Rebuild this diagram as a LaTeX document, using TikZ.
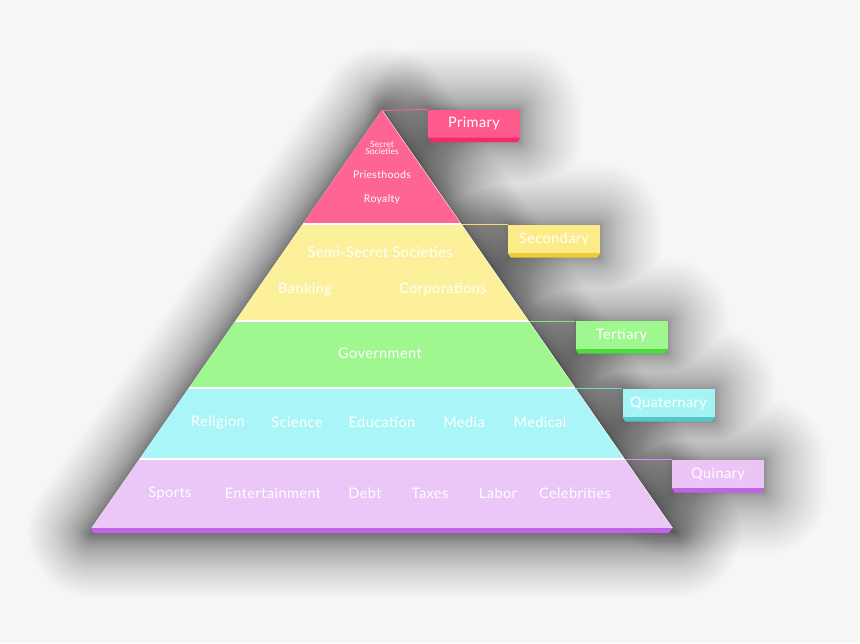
\documentclass[tikz,border=0pt]{standalone}
\usepackage{fontspec}
\setmainfont{Lato}
\newfontfamily\handfont[LetterSpace=3]{Lato}
\definecolor{bgc}{HTML}{F6F6F6}
\definecolor{pinkA}{HTML}{FE6592}
\definecolor{pinkB}{HTML}{FF5A8C}
\definecolor{pinkC}{HTML}{F7286B}
\definecolor{yelA}{HTML}{FCF09A}
\definecolor{yelB}{HTML}{FCEB86}
\definecolor{yelC}{HTML}{EDCB3A}
\definecolor{grnA}{HTML}{A0F790}
\definecolor{grnB}{HTML}{9FF88F}
\definecolor{grnC}{HTML}{4CDC3C}
\definecolor{cyaA}{HTML}{AAF5F7}
\definecolor{cyaB}{HTML}{A6F3F6}
\definecolor{cyaC}{HTML}{55C6CB}
\definecolor{purA}{HTML}{EBC7F7}
\definecolor{purB}{HTML}{EBC5F6}
\definecolor{purC}{HTML}{C262E8}
\begin{document}
\begin{tikzpicture}[x=1pt,y=-1pt,
  txt/.style={text=white, font=\handfont\fontsize{14.5}{16}\selectfont, inner sep=0pt},
  smalltxt/.style={text=white, font=\handfont\fontsize{10.5}{12}\selectfont, inner sep=0pt},
  tinytxt/.style={text=white, font=\fontsize{8.5}{8}\selectfont, align=center, inner sep=0pt},
  lbl/.style={text=white, font=\handfont\fontsize{14.5}{16}\selectfont, minimum width=92pt, minimum height=28pt, inner sep=0pt},
  link/.style={line width=0.8pt}]
\fill[bgc] (0,0) rectangle (860,643);
\useasboundingbox (0,0) rectangle (860,643);
% soft shadow of the pyramid: stacked offset copies of the silhouette
\foreach \i in {0,...,79} {
  \pgfmathsetmacro\rr{2*66*(\i/80)^2}
  \begin{scope}[transparency group, opacity=0.0078]
  \filldraw[black, line width=\rr pt, line join=round]
    (384,111) -- (677,533) -- (92,533) -- cycle;
  \end{scope}
}
% soft shadow of the label boxes
\foreach \i in {0,...,49} {
  \pgfmathsetmacro\rr{2*64*(\i/50)^1.6}
  \begin{scope}[transparency group, opacity=0.0085]
  \filldraw[black, line width=\rr pt, line join=round]
    (428,109) rectangle (520,142)
    (508,225) rectangle (600,258)
    (575,321) rectangle (668,354)
    (622,389) rectangle (715,422)
    (671,460) rectangle (765,493);
  \end{scope}
}
% pyramid
\coordinate (apex) at (382,110);
\coordinate (bl) at (91.5,528);
\coordinate (br) at (672.5,528);
\fill[white] (apex) -- (br) -- (bl) -- cycle;
\begin{scope}
\clip (apex) -- (br) -- (bl) -- cycle;
\fill[pinkA] (0,100) rectangle (860,223);
\fill[yelA] (0,225) rectangle (860,320);
\fill[grnA] (0,322) rectangle (860,387);
\fill[cyaA] (0,389) rectangle (860,458);
\fill[purA] (0,460) rectangle (860,529);
\end{scope}
\draw[white, opacity=0.6, line width=0.6pt] (apex) -- (br);
\fill[purC] (bl) -- (br) -- (668.5,533) -- (93,533) -- cycle;
% band corners
\coordinate (c1) at (382,110.5);
\coordinate (c2) at (461,224);
\coordinate (c3) at (528.5,321);
\coordinate (c4) at (575,388);
\coordinate (c5) at (624.5,459);
% label boxes
\node[lbl, fill=pinkB] (l1) at (474,123.5) {Primary};
\node[lbl, fill=yelB] (l2) at (554,239) {Secondary};
\node[lbl, fill=grnB] (l3) at (621.5,335) {Tertiary};
\node[lbl, fill=cyaB] (l4) at (668.5,403) {Quaternary};
\node[lbl, fill=purB] (l5) at (718,474) {Quinary};
\fill[pinkC] (l1.south west) -- (l1.south east) -- ++(-3,4.5) -- ([shift={(3,4.5)}]l1.south west) -- cycle;
\fill[yelC] (l2.south west) -- (l2.south east) -- ++(-3,4.5) -- ([shift={(3,4.5)}]l2.south west) -- cycle;
\fill[grnC] (l3.south west) -- (l3.south east) -- ++(-3,4.5) -- ([shift={(3,4.5)}]l3.south west) -- cycle;
\fill[cyaC] (l4.south west) -- (l4.south east) -- ++(-3,4.5) -- ([shift={(3,4.5)}]l4.south west) -- cycle;
\fill[purC] (l5.south west) -- (l5.south east) -- ++(-3,4.5) -- ([shift={(3,4.5)}]l5.south west) -- cycle;
% connectors
\draw[link, pinkA] (c1) -- (l1.north west);
\draw[link, yelC!70] (c2) -- (c2 -| l2.west);
\draw[link, grnC!70] (c3) -- (c3 -| l3.west);
\draw[link, cyaC!80] (c4) -- (c4 -| l4.west);
\draw[link, purC!70] (c5) -- (c5 -| l5.west);
% texts
\node[tinytxt] (t1) at (382,148) {Secret\\[-1pt]Societies};
\node[smalltxt] (t2) at (382,175) {Priesthoods};
\node[smalltxt] (t3) at (382,199.5) {Royalty};
\node[txt] (t4) at (380,252) {Semi-Secret Societies};
\node[txt] (t5) at (305,289) {Banking};
\node[txt] (t6) at (443,289) {Corporations};
\node[txt] (t7) at (380,353) {Government};
\node[txt] (t8) at (218,422) {Religion};
\node[txt] (t9) at (297,422) {Science};
\node[txt] (t10) at (382,422) {Education};
\node[txt] (t11) at (464,422) {Media};
\node[txt] (t12) at (540,422) {Medical};
\node[txt] (t13) at (170,493) {Sports};
\node[txt] (t14) at (273,493) {Entertainment};
\node[txt] (t15) at (365,493) {Debt};
\node[txt] (t16) at (430,493) {Taxes};
\node[txt] (t17) at (498,493) {Labor};
\node[txt] (t18) at (575,493) {Celebrities};
\end{tikzpicture}
\end{document}
